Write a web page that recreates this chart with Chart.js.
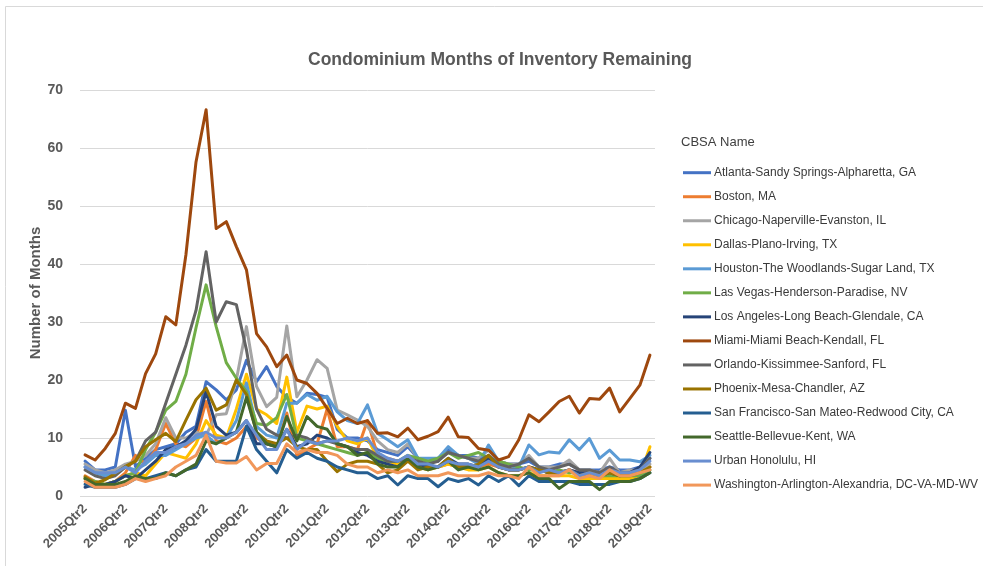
<!DOCTYPE html>
<html>
<head>
<meta charset="utf-8">
<title>Condominium Months of Inventory Remaining</title>
<script src="https://cdn.jsdelivr.net/npm/chart.js@4.4.1/dist/chart.umd.min.js"></script>
<style>
  html, body { margin: 0; padding: 0; background: #fff; }
  #wrap { width: 983px; height: 586px; }
</style>
</head>
<body>
<div id="wrap"><canvas id="chart" width="983" height="586"></canvas></div>
<script>
const quarters = [
  '2005Qtr2', '2005Qtr3', '2005Qtr4', '2006Qtr1',
  '2006Qtr2', '2006Qtr3', '2006Qtr4', '2007Qtr1',
  '2007Qtr2', '2007Qtr3', '2007Qtr4', '2008Qtr1',
  '2008Qtr2', '2008Qtr3', '2008Qtr4', '2009Qtr1',
  '2009Qtr2', '2009Qtr3', '2009Qtr4', '2010Qtr1',
  '2010Qtr2', '2010Qtr3', '2010Qtr4', '2011Qtr1',
  '2011Qtr2', '2011Qtr3', '2011Qtr4', '2012Qtr1',
  '2012Qtr2', '2012Qtr3', '2012Qtr4', '2013Qtr1',
  '2013Qtr2', '2013Qtr3', '2013Qtr4', '2014Qtr1',
  '2014Qtr2', '2014Qtr3', '2014Qtr4', '2015Qtr1',
  '2015Qtr2', '2015Qtr3', '2015Qtr4', '2016Qtr1',
  '2016Qtr2', '2016Qtr3', '2016Qtr4', '2017Qtr1',
  '2017Qtr2', '2017Qtr3', '2017Qtr4', '2018Qtr1',
  '2018Qtr2', '2018Qtr3', '2018Qtr4', '2019Qtr1',
  '2019Qtr2'
];

// only every Qtr2 gets a visible tick label
const tickLabels = [
  '2005Qtr2', '2006Qtr2', '2007Qtr2', '2008Qtr2', '2009Qtr2',
  '2010Qtr2', '2011Qtr2', '2012Qtr2', '2013Qtr2', '2014Qtr2',
  '2015Qtr2', '2016Qtr2', '2017Qtr2', '2018Qtr2', '2019Qtr2'
];

const yTicks = [0, 10, 20, 30, 40, 50, 60, 70];

const atlanta = [
  6, 4.5, 4.5, 5,  14.8, 5.1, 6.5, 8,  8.5, 9, 11, 12,  19.7, 18.3, 16.6, 18.3,
  23.4, 19.7, 22.3, 18.9,  17, 16, 17.7, 17.5,  17, 11.5, 10, 10,  9.5, 8, 7.5, 7,
  8.5, 6.5, 6, 6,  8, 7, 7, 6.5,  8, 6, 5.5, 5.5,  6, 5, 5, 5.5,
  5.5, 4.5, 4.5, 4.5,  5, 4.5, 4.5, 5,  6.5
];
const boston = [
  3.5, 2.5, 2, 2.5,  4, 7, 5.5, 8,  12.5, 9, 8.5, 10,  16.3, 9.5, 9, 10,
  12, 10, 9, 8.5,  14.3, 7, 8, 9,  15, 8.5, 8.5, 8,  13, 7, 6.5, 6,
  6.5, 5, 5, 5,  5.5, 5, 5, 5,  5.5, 5, 4.5, 4.5,  5, 4.5, 4, 4,
  4.5, 4, 4, 3.5,  4.5, 4, 3.5, 4,  5
];
const chicago = [
  5.5, 4.5, 4, 4.5,  5.5, 6, 7, 9,  13.5, 10, 10, 11,  10.5, 14, 14.2, 20,
  29.2, 18.9, 15.4, 17,  29.3, 17.1, 20, 23.5,  22, 14.8, 14, 13.1,  12, 9.5, 8, 7.5,
  9, 6.5, 6, 6.5,  7.5, 7, 6.5, 6.5,  8, 6, 5.5, 5.5,  7, 5, 5, 5,
  6.2, 4.5, 4.5, 4,  6.5, 4, 4.5, 4.5,  5.5
];
const dallas = [
  3, 2, 2, 2.5,  3.5, 4, 3.5, 5.5,  7.5, 7, 6.5, 9,  13, 10.5, 10, 15,
  21, 15, 14, 12.5,  20.5, 11, 15.5, 15,  15.5, 12, 9.5, 9,  10, 6.5, 6, 5.5,
  6.5, 5, 4.5, 5,  5.5, 5, 4.5, 4.5,  5, 4, 3.5, 3.5,  4, 3.5, 3.5, 3.5,
  3.5, 3, 3, 3,  3, 3, 3, 3.5,  8.5
];
const houston = [
  5, 4, 3.5, 4,  5, 4.5, 5.5, 7,  7, 8, 9, 10,  10.5, 9, 10, 13,
  19.5, 12, 10.5, 10,  16, 16, 17.5, 16.5,  17.2, 14.5, 13, 12.5,  15.7, 10.8, 9.7, 8.5,
  9.7, 6.5, 6.5, 6.5,  8.5, 7, 6.5, 5.5,  8.8, 6, 4.5, 5,  8.8, 7.1, 7.6, 7.4,
  9.7, 8, 9.9, 6.5,  7.9, 6.2, 6.2, 5.9,  7
];
const lasVegas = [
  3, 2.5, 2, 2.5,  3.5, 4, 8, 11,  14.8, 16.3, 21, 29,  36.4, 29.2, 23, 20.3,
  18, 12.5, 12.2, 13.5,  17.5, 10, 9.5, 9,  8.5, 8, 7.5, 7,  7.5, 6.5, 6, 6,
  7, 6.5, 6, 6.5,  7.5, 6.5, 7, 7.5,  6.5, 6, 5.5, 5,  4.5, 4.5, 4, 4.5,
  4, 4, 3.5, 3.5,  3.5, 3.5, 3.5, 3.5,  4.5
];
const losAngeles = [
  1.5, 2, 2, 2.5,  3.5, 3, 4.5, 6,  8, 8.5, 9.5, 11.5,  18, 12, 10.5, 11,
  13, 9, 9, 8.5,  11.5, 8.5, 9, 10.5,  10, 9, 8.5, 7.5,  7, 6, 5.5, 5,
  6.5, 5.5, 5, 5,  6.5, 5.5, 5.5, 5,  6.5, 5, 4.5, 4.5,  5, 4.5, 4, 4,
  4.5, 4, 4, 3.5,  4, 3.5, 4, 5,  7.5
];
const miami = [
  7.1, 6.2, 8.2, 10.8,  16, 15.1, 21.1, 24.5,  30.9, 29.5, 41.6, 57.6,  66.6, 46.1, 47.3, 43,
  39, 28, 25.7, 22.3,  24.3, 20, 19.4, 17.7,  15.1, 12.5, 13.4, 12.5,  13, 10.8, 10.9, 10.2,
  11.7, 9.7, 10.3, 11.1,  13.6, 10.2, 10.1, 8.2,  7.9, 6.2, 6.8, 9.7,  14, 12.8, 14.5, 16.3,
  17.2, 14.3, 16.8, 16.7,  18.6, 14.5, 16.8, 19.1,  24.3
];
const orlando = [
  4.5, 3.5, 3, 3.5,  5, 6, 9.5, 11,  16, 21, 26, 32,  42.1, 30, 33.5, 33,
  25.2, 15, 11.5, 10.5,  10, 10.5, 10, 9,  9.5, 9, 8.5, 8,  8, 7, 6, 6,
  6.5, 6, 5.5, 6,  7.5, 7, 6.5, 6,  7, 5.5, 5, 5.5,  6.5, 5, 4.5, 5,
  5.5, 4.5, 4.5, 4,  5, 4, 4, 4.5,  6.5
];
const phoenix = [
  3.3, 2.2, 2.8, 3.9,  5.1, 6, 8.5, 9.7,  10.8, 9.4, 13.1, 16.6,  18.6, 14.8, 15.7, 20,
  17.5, 11, 9.5, 9,  10, 8.5, 8, 8,  6, 4.2, 5.5, 6,  6, 5.5, 4, 4.5,
  6, 4.5, 5, 5,  6.5, 5, 5, 5.5,  7, 5, 4.5, 4.5,  5, 4.5, 4, 4,
  4.5, 3.5, 4, 3.5,  4, 3.5, 3.5, 4,  5
];
const sanFrancisco = [
  2, 1.5, 1.5, 1.5,  2, 3, 3, 3.5,  4, 3.5, 4.5, 5,  8, 6, 6, 6,
  12, 8, 6, 4,  8, 6.5, 7.5, 6.5,  6, 5, 4.5, 4,  4, 3, 3.5, 1.9,
  3.5, 3, 3, 1.6,  3, 2.5, 3, 1.9,  3.5, 2.5, 3.5, 1.8,  3.5, 2.5, 2.5, 2.5,
  2.5, 2, 2, 2,  2, 2.5, 2.5, 3,  4
];
const seattle = [
  3, 2, 2, 2,  2.5, 3.5, 3, 3,  4, 3.5, 4.5, 5.5,  9.5, 9, 10, 11,
  17, 11, 9, 8.5,  13.7, 9.5, 13.7, 12,  11.5, 9, 8.5, 7,  7.5, 5.5, 5, 5,
  6.5, 5, 4.5, 5,  6, 4.5, 5, 4.5,  5, 4, 3.5, 3.5,  4, 3, 3, 1.3,
  2.5, 2.5, 2.5, 1.1,  2.5, 2.5, 2.5, 3,  4
];
const honolulu = [
  5, 4, 4, 4,  5, 4, 6, 7.5,  7.5, 8.5, 9, 10.5,  11, 10, 10, 11,
  13, 10.5, 8, 8,  11.5, 8, 9.5, 9,  9.5, 9.5, 10, 9.5,  10, 7.5, 6.5, 6,
  7, 5.5, 5.5, 5,  6, 5.5, 5.5, 5,  6, 5, 4.5, 4.5,  5, 4, 4.5, 4,
  4.5, 3.5, 4, 3.5,  4.5, 4, 4, 4.5,  6
];
const washington = [
  2.5, 1.5, 1.5, 1.5,  2, 3, 2.5, 3,  3.5, 5, 6, 7,  10.5, 6, 5.7, 5.7,
  6.8, 4.5, 5.6, 5.6,  9, 7.5, 8, 7.5,  7.5, 7, 5.5, 5,  5, 4, 4.5, 4,
  4.5, 3.5, 3.5, 3.5,  4, 3.5, 3.5, 3.5,  4, 3.5, 3.5, 3,  5, 3.5, 3.5, 3.5,
  4.5, 3, 3.5, 3,  4.5, 3.5, 3.5, 4,  4.5
];

const seriesNames = [
  'Atlanta-Sandy Springs-Alpharetta, GA',
  'Boston, MA',
  'Chicago-Naperville-Evanston, IL',
  'Dallas-Plano-Irving, TX',
  'Houston-The Woodlands-Sugar Land, TX',
  'Las Vegas-Henderson-Paradise, NV',
  'Los Angeles-Long Beach-Glendale, CA',
  'Miami-Miami Beach-Kendall, FL',
  'Orlando-Kissimmee-Sanford, FL',
  'Phoenix-Mesa-Chandler, AZ',
  'San Francisco-San Mateo-Redwood City, CA',
  'Seattle-Bellevue-Kent, WA',
  'Urban Honolulu, HI',
  'Washington-Arlington-Alexandria, DC-VA-MD-WV'
];
const seriesValues = [
  atlanta, boston, chicago, dallas, houston, lasVegas, losAngeles,
  miami, orlando, phoenix, sanFrancisco, seattle, honolulu, washington
];
const seriesColors = [
  '#4472C4', '#ED7D31', '#A5A5A5', '#FFC000', '#5B9BD5', '#70AD47', '#264478',
  '#9E480E', '#636363', '#997300', '#255E91', '#43682B', '#698ED0', '#F1975A'
];

const chartTitle = 'Condominium Months of Inventory Remaining';
const legendTitle = 'CBSA Name';
const yTitle = 'Number of Months';

const FONT = "'Liberation Sans', Arial, sans-serif";
const textGray = '#595959';
const gridGray = '#d9d9d9';

Chart.defaults.font.family = FONT;

// title, frame and the right-hand legend are painted by hand
const decor = {
  id: 'decor',
  beforeDraw(chart) {
    const { ctx, width, height } = chart;
    ctx.save();
    ctx.fillStyle = '#fff';
    ctx.fillRect(0, 0, width, height);
    ctx.strokeStyle = gridGray;
    ctx.lineWidth = 1;
    ctx.beginPath();
    ctx.moveTo(5.5, 566);
    ctx.lineTo(5.5, 6.5);
    ctx.lineTo(width, 6.5);
    ctx.stroke();
    ctx.restore();
  },
  afterDraw(chart) {
    const { ctx } = chart;
    ctx.save();
    ctx.fillStyle = textGray;
    ctx.font = `bold 17.5px ${FONT}`;
    ctx.textAlign = 'center';
    ctx.textBaseline = 'middle';
    ctx.fillText(chartTitle, 500, 60);

    ctx.textAlign = 'left';
    ctx.fillStyle = '#404040';
    ctx.font = `13px ${FONT}`;
    ctx.fillText(legendTitle, 681, 142);

    ctx.font = `12px ${FONT}`;
    chart.data.datasets.forEach((ds, i) => {
      const y = 172.7 + i * 24.03;
      ctx.strokeStyle = ds.borderColor;
      ctx.lineWidth = 3;
      ctx.beginPath();
      ctx.moveTo(683, y);
      ctx.lineTo(711, y);
      ctx.stroke();
      ctx.fillStyle = '#3a3a3a';
      ctx.fillText(ds.label, 714, y);
    });
    ctx.restore();
  }
};

const datasets = seriesNames.map((name, i) => ({
  label: name,
  data: seriesValues[i],
  borderColor: seriesColors[i],
  backgroundColor: seriesColors[i],
  borderWidth: 3,
  borderJoinStyle: 'round',
  borderCapStyle: 'round',
  pointRadius: 0,
  tension: 0,
  fill: false,
  // Excel paints later series on top
  order: seriesNames.length - i
}));

new Chart(document.getElementById('chart'), {
  type: 'line',
  data: { labels: quarters, datasets },
  options: {
    responsive: false,
    animation: false,
    devicePixelRatio: 1,
    layout: { padding: { left: 0, top: 90, right: 328, bottom: 30 } },
    plugins: {
      legend: { display: false },
      title: { display: false },
      tooltip: { enabled: false }
    },
    scales: {
      x: {
        type: 'category',
        offset: true,
        grid: { display: false, drawTicks: false },
        border: { display: false },
        ticks: {
          autoSkip: false,
          maxRotation: 45,
          minRotation: 45,
          padding: 5,
          color: textGray,
          font: { size: 13, weight: 'bold' },
          callback(value) {
            const lbl = this.getLabelForValue(value);
            return tickLabels.includes(lbl) ? lbl : '';
          }
        },
        afterFit(scale) { scale.height = 60; }
      },
      y: {
        min: 0,
        max: 70,
        afterBuildTicks(scale) { scale.ticks = yTicks.map(v => ({ value: v })); },
        grid: { color: gridGray, lineWidth: 1, drawTicks: false },
        border: { display: false },
        ticks: {
          padding: 17,
          color: textGray,
          font: { size: 14, weight: 'bold' }
        },
        title: {
          display: true,
          text: yTitle,
          color: textGray,
          font: { size: 15, weight: 'bold' },
          padding: { top: 27, bottom: 0 }
        },
        afterFit(scale) { scale.width = 80; }
      }
    }
  },
  plugins: [decor]
});
</script>
</body>
</html>
